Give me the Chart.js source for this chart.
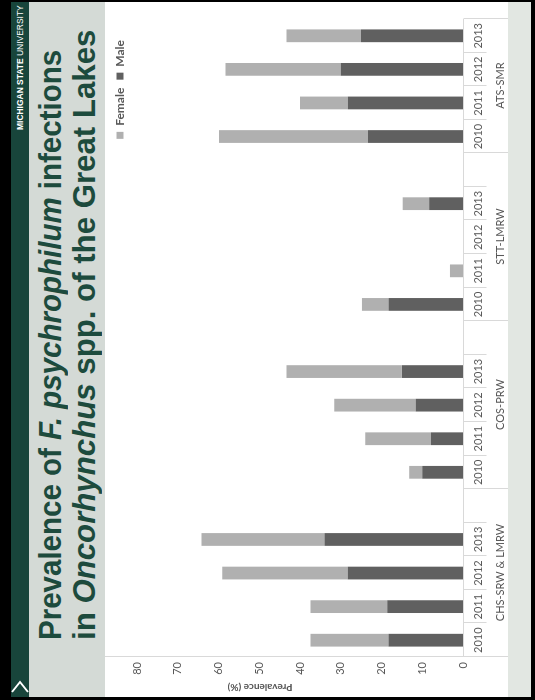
<!DOCTYPE html>
<html>
<head>
<meta charset="utf-8">
<script src="https://cdn.jsdelivr.net/npm/chart.js@4.4.1/dist/chart.umd.min.js"></script>
<style>
  html, body { margin: 0; padding: 0; background: #000; }
  body { width: 535px; height: 700px; overflow: hidden; position: relative; }
  /* the slide is built landscape and turned a quarter left, like the photo */
  #slide { position: absolute; left: 0; top: 0; width: 700px; height: 535px; background: #000;
           transform-origin: 0 0; transform: translate(0, 700px) rotate(-90deg); }
  .box { position: absolute; }
  #band { left: 3px; top: 11px; width: 695px; height: 18px; background: #18453b; }
  #head { left: 3px; top: 29px; width: 695px; height: 76px; background: #d4dad6; }
  #white { left: 3px; top: 105px; width: 695px; height: 403px; background: #fff; }
  #foot { left: 3px; top: 508px; width: 695px; height: 23px; background: #e2e7e2; }
  #msu { left: 570px; top: 14px; color: #fff; font: 9px "Liberation Sans", Arial, sans-serif;
         line-height: 12px; white-space: nowrap; display: inline-block; transform-origin: 0 50%; }
  #msu b { font-weight: bold; }
  .title { left: 60px; color: #1d4b3d; font: bold 31px "Liberation Sans Narrow", "Liberation Sans", Arial, sans-serif;
           line-height: 30px; white-space: nowrap; display: inline-block; transform-origin: 0 50%; }
  #t1 { top: 36px; }
  #t2 { top: 70px; }
  #nav { left: 6px; top: 11px; }
  #chart { position: absolute; left: 5px; top: 105px; }
</style>
</head>
<body>
<div id="slide">
  <div class="box" id="band"></div>
  <div class="box" id="head"></div>
  <div class="box" id="white"></div>
  <div class="box" id="foot"></div>
  <div class="box" id="msu" data-w="125"><b>MICHIGAN STATE</b> UNIVERSITY</div>
  <svg class="box" id="nav" width="18" height="18"><polyline points="2,1 12,9 2,17" fill="none" stroke="#fff" stroke-width="2"/></svg>
  <div class="box title" id="t1" data-w="590">Prevalence of <i>F. psychrophilum</i> infections</div>
  <div class="box title" id="t2" data-w="610">in <i>Oncorhynchus</i> spp. of the Great Lakes</div>
  <canvas id="chart" width="693" height="403"></canvas>
</div>
<script>
var groups = ['CHS-SRW & LMRW', 'COS-PRW', 'STT-LMRW', 'ATS-SMR'];
var years = ['2010', '2011', '2012', '2013'];
var male   = [18.3, 18.6, 28.3, 34.0,  10.0, 7.9, 11.6, 15.0,  18.3, 0, 0, 8.3,  23.3, 28.3, 30.0, 25.0];
var female = [19.1, 18.8, 30.8, 30.2,  3.2, 16.1, 20.0, 28.3,  6.5, 3.2, 0, 6.5,  36.6, 11.7, 28.3, 18.3];
var valueTicks = [0, 10, 20, 30, 40, 50, 60, 70, 80];

// squeeze the slide text to the width it has in the photo
document.querySelectorAll('[data-w]').forEach(function (el) {
  var s = +el.getAttribute('data-w') / el.offsetWidth;
  el.style.transform = 'scaleX(' + s + ')';
});

// excel leaves one empty slot after each site (not after the last one)
var labels = [], maleData = [], femaleData = [], groupEdges = [0];
groups.forEach(function (g, gi) {
  years.forEach(function (yr, yi) {
    labels.push(yr);
    maleData.push(male[gi * 4 + yi]);
    femaleData.push(female[gi * 4 + yi]);
  });
  if (gi < groups.length - 1) {
    labels.push('');
    maleData.push(null);
    femaleData.push(null);
  }
  groupEdges.push(labels.length);
});

var grey = '#595959';
var lineCol = '#d9d9d9';

var multiLevelAxis = {
  id: 'multiLevelAxis',
  afterLayout: function (chart) {
    // legend sat a bit further in on the original
    var lg = chart.legend;
    lg.left -= 13; lg.right -= 13;
    lg.top += 1; lg.bottom += 1;
  },
  afterDraw: function (chart) {
    var ctx = chart.ctx, xs = chart.scales.x, ys = chart.scales.y, a = chart.chartArea;
    var half = (xs.getPixelForValue(1) - xs.getPixelForValue(0)) / 2;
    var base = Math.round(ys.getPixelForValue(0)) + 0.5;
    var edge = function (i) {
      var p = i < labels.length ? xs.getPixelForValue(i) - half : xs.getPixelForValue(labels.length - 1) + half;
      return Math.round(p) + 0.5;
    };
    ctx.save();
    ctx.strokeStyle = lineCol;
    ctx.lineWidth = 1;
    ctx.beginPath();
    var x0 = Math.round(a.left) + 0.5;
    ctx.moveTo(x0, 0);
    ctx.lineTo(x0, chart.height);
    ctx.moveTo(a.left, base);
    ctx.lineTo(a.right, base);
    for (var i = 0; i <= labels.length; i++) {
      var x = edge(i);
      var long = groupEdges.indexOf(i) >= 0;
      ctx.moveTo(x, base);
      ctx.lineTo(x, base + (long ? 45 : 23));
    }
    ctx.stroke();

    ctx.fillStyle = grey;
    ctx.font = '11px Lato';
    ctx.textAlign = 'center';
    ctx.textBaseline = 'middle';
    groups.forEach(function (g, gi) {
      var cx = (edge(groupEdges[gi]) + edge(groupEdges[gi + 1])) / 2;
      ctx.fillText(g, cx, base + 37);
    });

    ctx.font = 'bold 10px Lato';
    ctx.translate(8, 155);
    ctx.rotate(-Math.PI / 2);
    ctx.fillText('Prevalence (%)', 0, 0);
    ctx.restore();
  }
};

Chart.defaults.font.family = 'Lato, "Open Sans", sans-serif';
Chart.defaults.color = grey;

var chart = new Chart(document.getElementById('chart').getContext('2d'), {
  type: 'bar',
  data: {
    labels: labels,
    datasets: [
      { label: 'Male', data: maleData, backgroundColor: '#606060', borderWidth: 0,
        categoryPercentage: 1, barPercentage: 0.38 },
      { label: 'Female', data: femaleData, backgroundColor: '#b0b0b0', borderWidth: 0,
        categoryPercentage: 1, barPercentage: 0.38 }
    ]
  },
  options: {
    responsive: false,
    animation: false,
    layout: { padding: { top: 0, right: 17, left: 0, bottom: 0 } },
    plugins: {
      legend: {
        position: 'top',
        align: 'end',
        reverse: true,
        labels: { boxWidth: 7, boxHeight: 7, padding: 8, color: grey,
                  font: { size: 12, weight: 'bold' } }
      },
      tooltip: { enabled: false }
    },
    scales: {
      x: {
        stacked: true,
        offset: true,
        grid: { display: false, drawTicks: false },
        border: { display: false },
        ticks: { autoSkip: false, maxRotation: 0, padding: 9, color: grey, font: { size: 11 } },
        afterFit: function (s) { s.height = 45; }
      },
      y: {
        stacked: true,
        min: 0,
        max: 80.49,
        grid: { display: false, drawTicks: false },
        border: { display: false },
        ticks: { stepSize: 10, padding: 5, color: grey, font: { size: 11 } },
        afterFit: function (s) { s.width = 38; },
        afterBuildTicks: function (s) {
          s.ticks = valueTicks.map(function (v) { return { value: v }; });
        }
      }
    }
  },
  plugins: [multiLevelAxis]
});
</script>
</body>
</html>
